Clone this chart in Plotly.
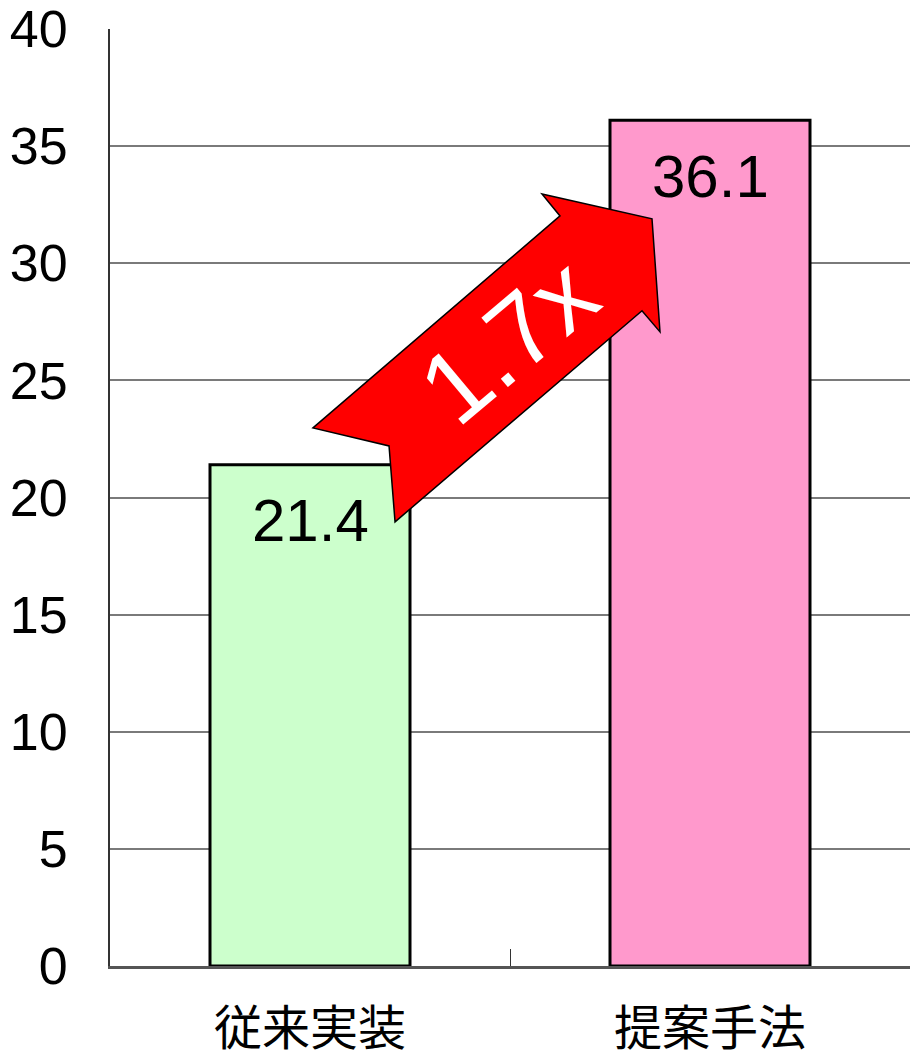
import plotly.graph_objects as go

# Data
categories = ["従来実装", "提案手法"]
values = [21.4, 36.1]
bar_colors = ["#CCFFCC", "#FF99CC"]
speedup_label = "1.7x"
y_ticks = [0, 5, 10, 15, 20, 25, 30, 35, 40]

W, H = 910, 1059
L, R, T, B = 110, 0, 29, 93
plot_w = W - L - R

fig = go.Figure()
fig.add_trace(go.Bar(
    x=categories,
    y=values,
    width=0.5,
    marker=dict(color=bar_colors, line=dict(color="black", width=3)),
    hoverinfo="skip",
))

# value labels inside the top of each bar
for c, v in zip(categories, values):
    fig.add_annotation(
        x=c, y=v, xref="x", yref="y",
        text=f"{v:.1f}", showarrow=False,
        yanchor="middle", yshift=-56,
        font=dict(family="Liberation Sans, Arial", size=60, color="black"),
    )

# block arrow between the two bars (x in pixels from plot left, y in data units)
arrow_pts = [
    (203, 22.97), (450, 32.02), (432, 32.96), (542, 31.90),
    (550, 27.07), (532, 27.97), (285, 18.96), (279, 22.20),
]
path = "M " + " L ".join(f"{px / plot_w:.4f},{py:.3f}" for px, py in arrow_pts) + " Z"
fig.add_shape(
    type="path", path=path, xref="paper", yref="y",
    fillcolor="#FF0000", line=dict(color="black", width=1.5), layer="above",
)
fig.add_annotation(
    x=398 / plot_w, y=26.7, xref="paper", yref="y",
    text=speedup_label, showarrow=False, textangle=-40,
    font=dict(family="Liberation Sans, Arial", size=102, color="white"),
)

fig.update_layout(
    width=W, height=H,
    margin=dict(l=L, r=R, t=T, b=B),
    paper_bgcolor="white", plot_bgcolor="white",
    showlegend=False,
    bargap=0.5,
)
fig.update_yaxes(
    range=[0, 40], tickvals=y_ticks, automargin=False,
    showgrid=True, gridcolor="#7a7a7a", gridwidth=1.5,
    showline=True, linecolor="#333333", linewidth=2,
    ticks="", ticklabelstandoff=30,
    tickfont=dict(family="Liberation Sans, Arial", size=52, color="black"),
    zeroline=False,
)
fig.update_xaxes(
    range=[-0.5, 1.5], automargin=False,
    showline=True, linecolor="#555555", linewidth=3,
    ticks="inside", tickson="boundaries", ticklen=17, tickcolor="#333333", tickwidth=1,
    ticklabelstandoff=18,
    tickfont=dict(family="Noto Sans CJK JP", size=48, color="black"),
)

fig.write_html("out.html")
